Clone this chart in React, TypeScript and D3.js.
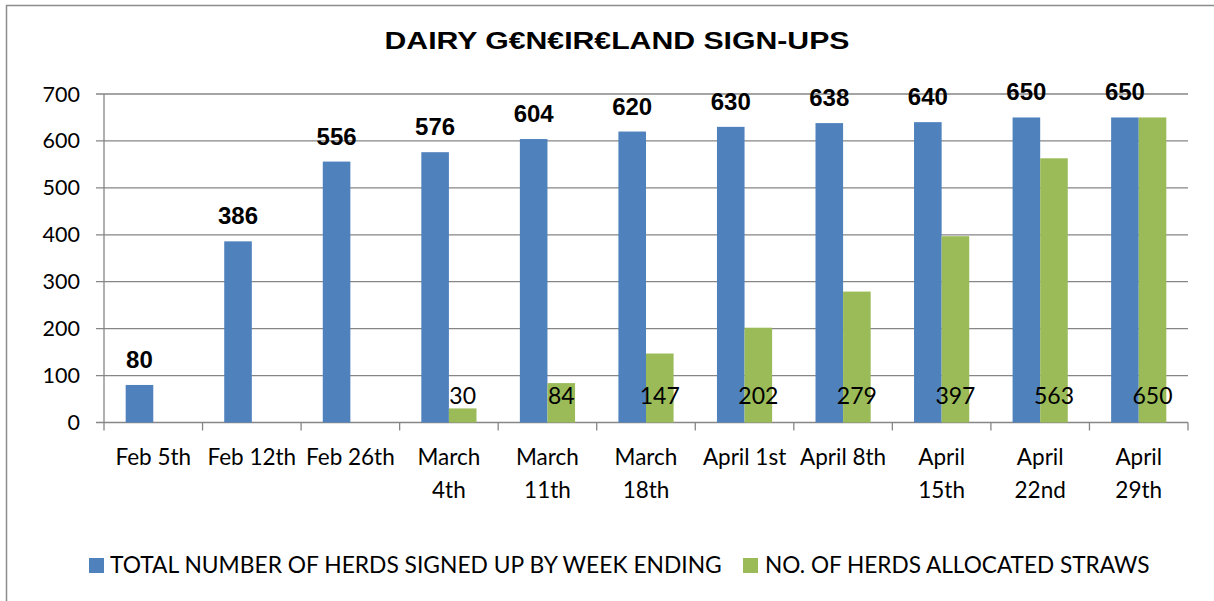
import React from "react";
import * as d3 from "d3";

const categories: string[][] = [
  ["Feb 5th"], ["Feb 12th"], ["Feb 26th"], ["March", "4th"], ["March", "11th"],
  ["March", "18th"], ["April 1st"], ["April 8th"], ["April", "15th"], ["April", "22nd"], ["April", "29th"],
];
const totalHerds: number[] = [80, 386, 556, 576, 604, 620, 630, 638, 640, 650, 650];
const allocatedStraws: (number | null)[] = [null, null, null, 30, 84, 147, 202, 279, 397, 563, 650];
const yTicks: number[] = [0, 100, 200, 300, 400, 500, 600, 700];
const seriesNames = ["TOTAL NUMBER OF HERDS SIGNED UP BY WEEK ENDING", "NO. OF HERDS ALLOCATED STRAWS"];
const colors = ["#4F81BD", "#9BBB59"];

const W = 1214, H = 601;
const left = 104, right = 1188, top = 94, bottom = 422.5;
const grid = "#868686";

export default function App() {
  const idx = categories.map((_, i) => String(i));
  const x = d3.scaleBand().domain(idx).range([left, right]).paddingInner(0.44).paddingOuter(0.22);
  const band = d3.scaleBand().domain(["0", "1"]).range([0, x.bandwidth()]);
  const y = d3.scaleLinear().domain([0, 700]).range([bottom, top]);
  const step = (right - left) / categories.length;
  const fontCal = "Lato, 'Noto Sans', sans-serif";
  const fontBold = "'Liberation Sans', Arial, sans-serif";

  return (
    <svg width={W} height={H} style={{ position: "absolute", left: 0, top: 0, background: "#fff" }}>
      <rect x={6.5} y={5.5} width={W + 10} height={H + 10} fill="#fff" stroke="#8c8c8c" strokeWidth={1.5} />
      <text x={617} y={49} textAnchor="middle" fontFamily={fontBold} fontWeight="bold" fontSize={24.5}
        textLength={465} lengthAdjust="spacingAndGlyphs">
        DAIRY G€N€IR€LAND SIGN-UPS
      </text>
      {yTicks.map((t) => (
        <g key={t}>
          <line x1={left - 8} x2={right} y1={y(t)} y2={y(t)} stroke={grid} strokeWidth={1.3} />
          <text x={80} y={y(t) + 7.5} textAnchor="end" fontFamily={fontCal} fontSize={21.5} fill="#000">{t}</text>
        </g>
      ))}
      <line x1={left} x2={left} y1={top} y2={bottom} stroke={grid} strokeWidth={1.3} />
      {d3.range(categories.length + 1).map((i) => (
        <line key={i} x1={left + i * step} x2={left + i * step} y1={bottom} y2={bottom + 8} stroke={grid} strokeWidth={1.3} />
      ))}
      {categories.map((c, i) => {
        const x0 = x(String(i))!;
        const cx = x0 + x.bandwidth() / 2;
        const g = allocatedStraws[i];
        return (
          <g key={i}>
            <rect x={x0 + band("0")!} y={y(totalHerds[i])} width={band.bandwidth()} height={bottom - y(totalHerds[i])} fill={colors[0]} />
            {g !== null && (
              <rect x={x0 + band("1")!} y={y(g)} width={band.bandwidth()} height={bottom - y(g)} fill={colors[1]} />
            )}
            <text x={x0 + band("0")! + band.bandwidth() / 2} y={y(totalHerds[i]) - 17} textAnchor="middle"
              fontFamily={fontBold} fontWeight="bold" fontSize={24} fill="#000">{totalHerds[i]}</text>
            {g !== null && (
              <text x={x0 + band("1")! + band.bandwidth() / 2} y={404} textAnchor="middle"
                fontFamily={fontCal} fontSize={23} fill="#000">{g}</text>
            )}
            {c.map((line, j) => (
              <text key={j} x={cx} y={465 + j * 33} textAnchor="middle" fontFamily={fontCal} fontSize={22.5} fill="#000">{line}</text>
            ))}
          </g>
        );
      })}
      <rect x={89} y={558} width={15} height={15} fill={colors[0]} />
      <text x={110} y={573} fontFamily={fontCal} fontSize={22.8} fill="#000">{seriesNames[0]}</text>
      <rect x={743} y={558} width={15} height={15} fill={colors[1]} />
      <text x={765} y={573} fontFamily={fontCal} fontSize={22.6} fill="#000">{seriesNames[1]}</text>
    </svg>
  );
}
